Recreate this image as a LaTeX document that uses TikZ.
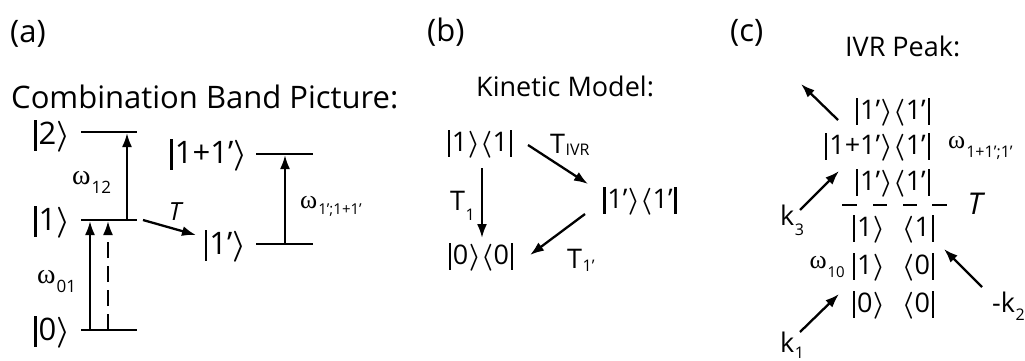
\RequirePackage{fix-cm}
\documentclass[tikz,border=0pt]{standalone}
\usepackage{amsmath}
\usepackage{fontspec}
\setmainfont{Open Sans}
\newfontfamily\grk{Liberation Serif}
\usetikzlibrary{arrows.meta}
\newcommand{\vb}{\kern0.07em\rule[-0.21em]{0.075em}{0.98em}\kern0.07em}
\newcommand{\kt}[1]{\vb#1\kern0.5pt$\boldsymbol{\rangle}$}
\newcommand{\br}[1]{$\boldsymbol{\langle}$\kern0.5pt#1\vb}
\newcommand{\pr}{’}
\newcommand{\om}[3]{{\grk ω}\kern1pt\raisebox{-#3}{\fontsize{#2}{#2}\selectfont #1}}
\newcommand{\lsub}[4]{#1\kern0.5pt\raisebox{-#4}{\fontsize{#3}{#3}\selectfont #2}}
\tikzset{
  head/.style={inner sep=0pt, font=\fontsize{27}{32}\selectfont},
  heada/.style={inner sep=0pt, font=\fontsize{31}{36}\selectfont},
  tag/.style={inner sep=0pt, font=\fontsize{31}{36}\selectfont},
  keta/.style={inner sep=0pt, font=\fontsize{31}{36}\selectfont},
  ketb/.style={inner sep=0pt, font=\fontsize{27}{32}\selectfont},
  omg/.style={inner sep=0pt, font=\fontsize{26}{30}\selectfont},
  omga/.style={inner sep=0pt, font=\fontsize{28}{32}\selectfont},
  lev/.style={line width=2.5pt},
  arr/.style={line width=2.3pt, -{Latex[length=14pt,width=10pt]}},
  dsh/.style={arr, dash pattern=on 16pt off 8pt},
}
\begin{document}
\begin{tikzpicture}[x=1pt,y=-1pt]
\useasboundingbox (0,0) rectangle (1025,360);
% ---------- titles
\node[tag, anchor=base west] (ta) at (10,42) {(a)};
\node[tag, anchor=base west] (tb) at (427,41) {(b)};
\node[tag, anchor=base west] (tc) at (730,41) {(c)};
\node[heada, anchor=base west] (tcomb) at (11,108) {Combination Band Picture:};
\node[head, anchor=base west] (tkin) at (476,96) {Kinetic Model:};
\node[head, anchor=base west] (tivr) at (845,56) {IVR Peak:};
% ---------- panel (a)
\coordinate (l2a) at (81,132);  \coordinate (l2b) at (137,132);
\coordinate (l1a) at (81,220);  \coordinate (l1b) at (137,220);
\coordinate (l0a) at (81,330);  \coordinate (l0b) at (137,330);
\coordinate (m2a) at (256,154); \coordinate (m2b) at (313,154);
\coordinate (m1a) at (256,244); \coordinate (m1b) at (313,244);
\foreach \p/\q in {l2a/l2b,l1a/l1b,l0a/l0b,m2a/m2b,m1a/m1b} \draw[lev] (\p) -- (\q);
\node[keta, anchor=east] (k2) at (71,136) {\kt{2}};
\node[keta, anchor=east] (k1) at (71,222) {\kt{1}};
\node[keta, anchor=east] (k0) at (71,332) {\kt{0}};
\node[keta, anchor=east] (k11) at (248,155) {\kt{1+1\pr}};
\node[keta, anchor=east] (k1p) at (247,246) {\kt{1\pr}};
\coordinate (u0) at (90,330);  \coordinate (u1) at (90,221);
\coordinate (d0) at (108,330); \coordinate (d1) at (108,221);
\coordinate (v1) at (127,220); \coordinate (v2) at (127,133);
\coordinate (w1) at (285,244); \coordinate (w2) at (285,155);
\draw[arr] (u0) -- (u1);
\draw[dsh] (d0) -- (d1);
\draw[arr] (v1) -- (v2);
\draw[arr] (w1) -- (w2);
\coordinate (ts) at (143,220); \coordinate (te) at (196,235);
\draw[arr] (ts) -- (te);
\node[omga, anchor=base west] (o12) at (72,184) {\om{12}{17}{9pt}};
\node[omga, anchor=base west] (o01) at (37,283) {\om{01}{17}{9pt}};
\node[omg, anchor=base west] (o11) at (300,208) {\om{1\pr;1+1\pr}{15}{6pt}};
\node[inner sep=0pt, font=\fontsize{25}{30}\selectfont\itshape] (tT) at (175,212) {T};
% ---------- panel (b)
\node[ketb] (b11) at (480,144) {\kt{1}\br{1}};
\node[ketb] (b1p) at (640,201) {\kt{1\pr}\br{1\pr}};
\node[ketb] (b00) at (481,257) {\kt{0}\br{0}};
\coordinate (t1s) at (482,168); \coordinate (t1e) at (482,238);
\coordinate (ivs) at (528,145); \coordinate (ive) at (588,184);
\coordinate (tps) at (585,214); \coordinate (tpe) at (530,255);
\draw[arr] (t1s) -- (t1e);
\draw[arr] (ivs) -- (ive);
\draw[arr] (tps) -- (tpe);
\node[head, anchor=base west] (lT1) at (450,210) {\lsub{T}{1}{16}{10pt}};
\node[head, anchor=base west] (lTI) at (550,153) {\lsub{T}{IVR}{16}{2pt}};
\node[head, anchor=base west] (lTp) at (567,268) {\lsub{T}{1\pr}{16}{3pt}};
% ---------- panel (c)
\node[ketb, anchor=east] (c1k) at (893,112) {\kt{1\pr}};
\node[ketb, anchor=west] (c1b) at (893,112) {\br{1\pr}};
\node[ketb, anchor=east] (c2k) at (893,147) {\kt{1+1\pr}};
\node[ketb, anchor=west] (c2b) at (893,147) {\br{1\pr}};
\node[ketb, anchor=east] (c3k) at (893,183) {\kt{1\pr}};
\node[ketb, anchor=west] (c3b) at (893,183) {\br{1\pr}};
\node[ketb, anchor=west] (c4k) at (851,229) {\kt{1}};
\node[ketb, anchor=east] (c4b) at (936,229) {\br{1}};
\node[ketb, anchor=west] (c5k) at (851,267) {\kt{1}};
\node[ketb, anchor=east] (c5b) at (936,267) {\br{0}};
\node[ketb, anchor=west] (c6k) at (851,305) {\kt{0}};
\node[ketb, anchor=east] (c6b) at (936,305) {\br{0}};
\foreach \xa/\xb in {842/857,873/887,903/917,932/947}
  \draw[line width=2pt] (\xa,205) -- (\xb,205);
\node[omg, anchor=base west] (c11) at (948,148) {\om{1+1\pr;1\pr}{16}{9pt}};
\node[omg, anchor=base east] (c10) at (845,268) {\om{10}{15}{9pt}};
\node[inner sep=0pt, font=\fontsize{30}{34}\selectfont\itshape] (cT) at (975,204) {T};
\node[head, anchor=base west] (ck3) at (780,225) {\lsub{k}{3}{16}{10pt}};
\node[head, anchor=base west] (ck1) at (780,352) {\lsub{k}{1}{16}{6pt}};
\node[head, anchor=base west] (ck2) at (992,312) {\lsub{-k}{2}{16}{8pt}};
\coordinate (e1s) at (838,120); \coordinate (e1e) at (801,84);
\coordinate (e3s) at (800,210); \coordinate (e3e) at (839,171);
\coordinate (e2s) at (982,287); \coordinate (e2e) at (944,249);
\coordinate (e0s) at (800,332); \coordinate (e0e) at (839,294);
\draw[arr] (e1s) -- (e1e);
\draw[arr] (e3s) -- (e3e);
\draw[arr] (e2s) -- (e2e);
\draw[arr] (e0s) -- (e0e);
\end{tikzpicture}
\end{document}
